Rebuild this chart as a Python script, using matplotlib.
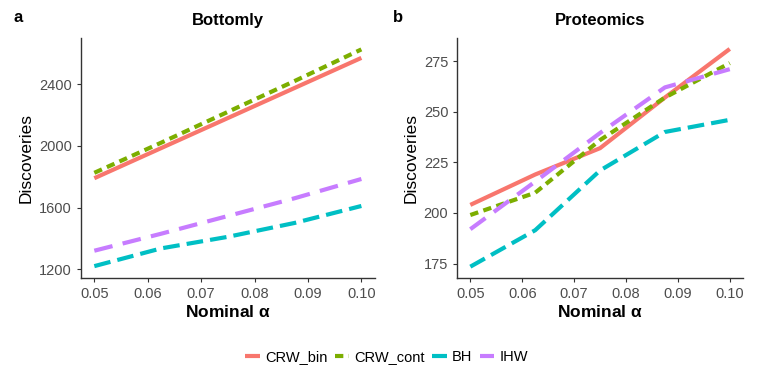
import matplotlib.pyplot as plt
from matplotlib.lines import Line2D

plt.rcParams['font.family'] = ['Liberation Sans', 'DejaVu Sans']

alpha = [0.05, 0.0625, 0.075, 0.0875, 0.10]

# Bottomly
bot_crw_bin = [1790, 1985, 2180, 2375, 2570]
bot_crw_cont = [1825, 2020, 2220, 2420, 2625]
bot_bh = [1220, 1335, 1410, 1500, 1610]
bot_ihw = [1320, 1430, 1545, 1660, 1785]

# Proteomics
pro_crw_bin = [204, 219, 232, 257, 281]
pro_crw_cont = [199, 210, 236, 257, 274]
pro_bh = [173.5, 191.5, 221, 240, 246]
pro_ihw = [192, 215.5, 239.5, 262, 271]

methods = ["CRW_bin", "CRW_cont", "BH", "IHW"]
colors = ["#F8766D", "#7CAE00", "#00BFC4", "#C77CFF"]
styles = ["-", (0, (2, 1.3)), (0, (4, 1.7)), (0, (4.5, 2.5))]

fig = plt.figure(figsize=(7.61, 3.81), dpi=100)
ax1 = fig.add_axes([0.1064, 0.2703, 0.386, 0.630])
ax2 = fig.add_axes([0.601, 0.2703, 0.375, 0.630])

def draw(ax, series, title, yticks, ylim):
    for s, c, ls in zip(series, colors, styles):
        ax.plot(alpha, s, color=c, linestyle=ls, lw=3, dash_capstyle='butt', solid_capstyle='butt')
    ax.set_xlim(0.0475, 0.1025)
    ax.set_ylim(*ylim)
    ax.set_xticks([0.05, 0.06, 0.07, 0.08, 0.09, 0.10])
    ax.set_xticklabels(["0.05", "0.06", "0.07", "0.08", "0.09", "0.10"])
    ax.set_yticks(yticks)
    ax.spines['top'].set_visible(False)
    ax.spines['right'].set_visible(False)
    for sp in ['left', 'bottom']:
        ax.spines[sp].set_linewidth(1.0)
        ax.spines[sp].set_color('#333333')
    ax.tick_params(labelsize=10.5, colors='#333333', labelcolor='#4D4D4D', length=3, width=0.8)
    ax.set_title(title, fontsize=12, fontweight='bold', pad=9)
    ax.set_ylabel("Discoveries", fontsize=12.5, labelpad=4)
    ax.set_xlabel(r"Nominal $\mathregular{\alpha}$", fontsize=12.5, fontweight='bold', labelpad=2)

draw(ax1, [bot_crw_bin, bot_crw_cont, bot_bh, bot_ihw], "Bottomly", [1200, 1600, 2000, 2400], (1143, 2699))
draw(ax2, [pro_crw_bin, pro_crw_cont, pro_bh, pro_ihw], "Proteomics", [175, 200, 225, 250, 275], (167.9, 286.4))

fig.text(13 / 761, 1 - 17 / 381, "a", fontsize=12, fontweight='bold', va='center')
fig.text(393 / 761, 1 - 17 / 381, "b", fontsize=12, fontweight='bold', va='center')

handles = [Line2D([0], [0], color=c, lw=3, linestyle=ls, dash_capstyle='butt', solid_capstyle='butt')
           for c, ls in zip(colors, styles)]
fig.legend(handles, methods, loc='center', bbox_to_anchor=(0.508, 1 - 357 / 381), ncol=4, frameon=False,
           fontsize=10.5, handlelength=1.0, handletextpad=0.35, columnspacing=0.5)

fig.savefig("out.png", dpi=100)
